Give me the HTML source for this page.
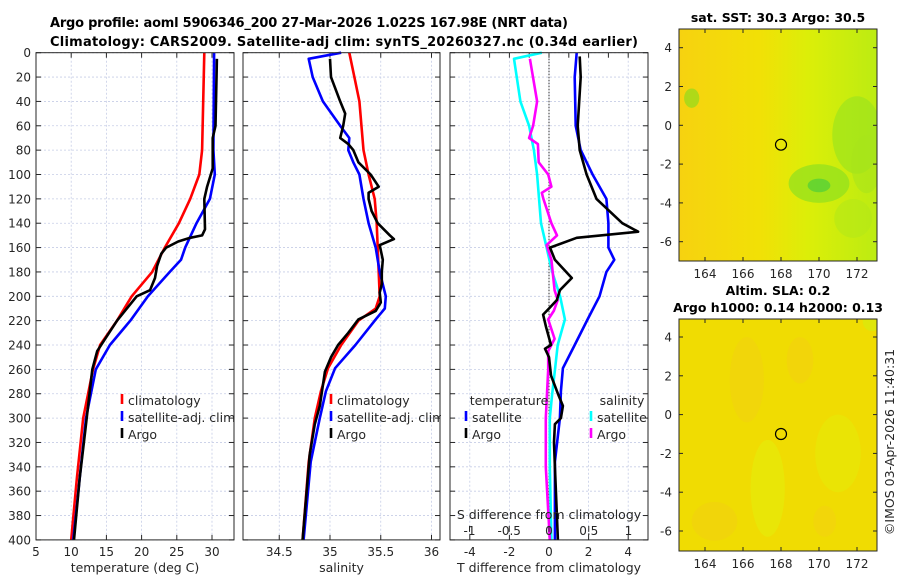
<!DOCTYPE html>
<html><head><meta charset="utf-8"><style>
body{margin:0;background:#fff;width:900px;height:580px;overflow:hidden}
svg text{font-family:"DejaVu Sans","Liberation Sans",sans-serif;fill:#262626}
</style></head><body>
<svg id="chart" width="900" height="580" xmlns="http://www.w3.org/2000/svg">
<text x="50" y="27" font-size="13" font-weight="bold" textLength="518" style="fill:#000">Argo profile: aoml 5906346_200 27-Mar-2026 1.022S 167.98E (NRT data)</text>
<text x="50" y="46" font-size="13" font-weight="bold" textLength="588" style="fill:#000">Climatology: CARS2009. Satellite-adj clim: synTS_20260327.nc (0.34d earlier)</text>
<g id="g"></g>
</svg>
<script>
// ---- data (depth in m) ----
const clim_T_depth=[0,80,100,120,140,160,180,200,220,240,260,300,350,400];
const clim_T=[28.9,28.6,28.2,26.9,25.3,23.3,21.5,18.6,16.5,14.1,13.1,11.7,10.8,10.0];
const sat_T_depth=[0,80,100,120,140,160,170,180,200,220,240,260,300,350,400];
const sat_T=[30.3,30.2,30.4,29.7,27.8,26.2,25.6,24.0,20.9,18.4,15.5,13.5,12.1,11.2,10.3];
const argo_T_depth=[5,60,70,95,110,120,145,150,152,155,160,165,175,185,195,200,220,245,260,310,350,400];
const argo_T=[30.7,30.5,30.1,30.1,29.3,28.9,29.0,28.6,26.9,25.2,23.5,22.8,22.2,21.9,21.2,19.3,16.5,13.7,13.0,12.0,11.2,10.4];

const clim_S_depth=[0,20,40,80,100,120,140,180,200,210,220,240,259,278,300,336,400];
const clim_S=[35.19,35.24,35.29,35.33,35.38,35.44,35.46,35.48,35.49,35.45,35.28,35.11,34.98,34.91,34.85,34.79,34.73];
const sat_S_depth=[0,5,20,40,60,70,80,90,100,120,140,160,180,200,210,219,240,259,278,300,336,400];
const sat_S=[35.11,34.79,34.83,34.93,35.10,35.19,35.18,35.23,35.29,35.33,35.38,35.45,35.49,35.55,35.54,35.45,35.25,35.05,34.96,34.90,34.81,34.74];
const argo_S_depth=[5,20,40,50,60,70,75,80,90,100,110,115,120,130,140,150,153,158,170,180,190,197,205,212,219,230,240,250,262,290,305,330,400];
const argo_S=[35.0,35.01,35.10,35.15,35.13,35.10,35.18,35.23,35.28,35.40,35.48,35.38,35.38,35.41,35.47,35.59,35.63,35.49,35.52,35.51,35.51,35.49,35.50,35.45,35.28,35.18,35.08,35.01,34.95,34.90,34.85,34.80,34.73];

const dT_sat_depth=[0,20,60,80,100,120,140,160,170,180,200,219,240,259,278,300,336,400];
const dT_sat=[1.4,1.3,1.35,1.6,2.2,2.9,3.0,3.0,3.3,2.9,2.55,1.95,1.3,0.7,0.6,0.55,0.3,0.3];
const dT_argo_depth=[3,20,60,80,100,120,140,147,152,160,170,185,195,203,210,215,225,240,243,250,265,280,290,300,305,320,340,400];
const dT_argo=[1.55,1.6,1.45,1.55,1.9,2.4,3.7,4.5,1.4,0.05,0.3,1.15,0.55,0.4,0.0,-0.3,-0.15,0.1,-0.2,0.0,0.1,0.45,0.7,0.6,0.3,0.25,0.3,0.45];
const dS_sat_depth=[0,5,40,60,80,100,140,160,180,200,219,240,260,280,300,340,400];
const dS_sat=[-0.09,-0.44,-0.36,-0.25,-0.19,-0.15,-0.10,-0.03,0.04,0.14,0.20,0.11,0.075,0.04,0.01,0.01,0.03];
const dS_argo_depth=[5,40,60,70,75,90,100,110,115,120,140,150,158,170,195,203,212,219,235,245,260,300,340,400];
const dS_argo=[-0.24,-0.15,-0.20,-0.25,-0.14,-0.13,-0.01,0.03,-0.09,-0.07,0.03,0.10,-0.03,0.03,0.07,0.11,0.06,-0.01,0.07,-0.01,-0.01,-0.04,-0.04,0.01];

const depthTicks=[0,20,40,60,80,100,120,140,160,180,200,220,240,260,280,300,320,340,360,380,400];
const tTicks=[5,10,15,20,25,30];
const sTicks=[34.5,35,35.5,36];
const dTTicks=[-4,-2,0,2,4];
const dSTicks=[-1,-0.5,0,0.5,1];
const dSTickLabels=["-1","-0.5","0","0.5","1"];
const lonTicks=[164,166,168,170,172];
const latTicks=[4,2,0,-2,-4,-6];

const NS="http://www.w3.org/2000/svg";
const G=document.getElementById('g');
function el(tag,attrs,parent){const e=document.createElementNS(NS,tag);for(const k in attrs)e.setAttribute(k,attrs[k]);(parent||G).appendChild(e);return e;}
function txt(x,y,s,size,anchor,parent){const t=el('text',{x:x,y:y,'font-size':size||12,'text-anchor':anchor||'middle'},parent);t.textContent=s;return t;}

const Y0=52.7,YS=1.218;
const yD=d=>Y0+d*YS;
const xT=t=>36+(t-5)*7.04;
const xS=s=>330+(s-35)*101.5;
const xdT=v=>549+v*19.8;
const xdS=v=>549+v*79.5;

function panel(name,x0,x1,xticks,xf,xlab,xlabStr){
  const g=el('g',{});
  
  
  depthTicks.forEach(d=>{const y=yD(d);
    const l=el('line',{x1:x0,x2:x1,y1:y,y2:y,stroke:'#c6cde6','stroke-width':0.8,'stroke-dasharray':'2,2'},g);
    
    el('line',{x1:x0,x2:x0+5,y1:y,y2:y,stroke:'#262626'},g);el('line',{x1:x1-5,x2:x1,y1:y,y2:y,stroke:'#262626'},g);});
  xticks.forEach((v,i)=>{const x=xf(v);
    const l=el('line',{x1:x,x2:x,y1:Y0,y2:yD(400),stroke:'#c6cde6','stroke-width':0.8,'stroke-dasharray':'2,2'},g);
    
    el('line',{x1:x,x2:x,y1:yD(400)-5,y2:yD(400),stroke:'#262626'},g);el('line',{x1:x,x2:x,y1:Y0,y2:Y0+5,stroke:'#262626'},g);
    const t=txt(x,556,xlab?xlab[i]:String(v),12,'middle',g);});
  const t=txt((x0+x1)/2,572,xlabStr,12.5,'middle',g);
  return g;
}
function frame(g,x0,x1){const r=el('rect',{x:x0,y:Y0,width:x1-x0,height:yD(400)-Y0,fill:'none',stroke:'#262626','stroke-width':1},g);}
function line(g,depths,vals,xf,color,name){
  const pts=depths.map((d,i)=>xf(vals[i]).toFixed(1)+','+yD(d).toFixed(1)).join(' ');
  const p=el('polyline',{points:pts,fill:'none',stroke:color,'stroke-width':2.6,'stroke-linejoin':'round'},g);
  
}
function legendItem(g,x,y,color,label,name){
  const gi=el('g',{},g);
  el('line',{x1:x,x2:x,y1:y-11,y2:y-1,stroke:color,'stroke-width':2.6},gi);
  txt(x+6,y,label,12.5,'start',gi);
}

// Panel 1
const p1=panel('temperature-panel',36,234,tTicks,xT,null,'temperature (deg C)');
depthTicks.forEach(d=>{const t=txt(31,yD(d)+4.5,String(d),12,'end',p1);});
line(p1,clim_T_depth,clim_T,xT,'#ff0000','climatology-temperature-line');
line(p1,sat_T_depth,sat_T,xT,'#0000ff','satellite-temperature-line');
line(p1,argo_T_depth,argo_T,xT,'#000000','argo-temperature-line');
legendItem(p1,122,405,'#ff0000','climatology','legend-climatology');
legendItem(p1,122,422,'#0000ff','satellite-adj. clim','legend-satellite');
legendItem(p1,122,439,'#000000','Argo','legend-argo');
frame(p1,36,234);

// Panel 2
const p2=panel('salinity-panel',243,440,sTicks,xS,null,'salinity');
line(p2,clim_S_depth,clim_S,xS,'#ff0000','climatology-salinity-line');
line(p2,sat_S_depth,sat_S,xS,'#0000ff','satellite-salinity-line');
line(p2,argo_S_depth,argo_S,xS,'#000000','argo-salinity-line');
legendItem(p2,331,405,'#ff0000','climatology','legend-climatology');
legendItem(p2,331,422,'#0000ff','satellite-adj. clim','legend-satellite');
legendItem(p2,331,439,'#000000','Argo','legend-argo');
el('rect',{x:441,y:400,width:8,height:50,fill:'#fff'},p2);
frame(p2,243,440);

// Panel 3
const p3=panel('difference-panel',450,648,dTTicks,xdT,null,'T difference from climatology');
[-3,-1,1,3].forEach(v=>{el('line',{x1:xdT(v),x2:xdT(v),y1:Y0,y2:Y0+5,stroke:'#262626'},p3);});
const z=el('line',{x1:549,x2:549,y1:Y0,y2:yD(400),stroke:'#555','stroke-width':1.2,'stroke-dasharray':'1.5,1.5'},p3);

line(p3,dS_sat_depth,dS_sat,xdS,'#00ffff','satellite-salinity-diff-line');
line(p3,dS_argo_depth,dS_argo,xdS,'#ff00ff','argo-salinity-diff-line');
line(p3,dT_sat_depth,dT_sat,xdT,'#0000ff','satellite-temperature-diff-line');
line(p3,dT_argo_depth,dT_argo,xdT,'#000000','argo-temperature-diff-line');
let tl=txt(509,405,'temperature',12.5,'middle',p3);
let sl=txt(622,405,'salinity',12.5,'middle',p3);
legendItem(p3,466,422,'#0000ff','satellite','legend-temperature-satellite');
legendItem(p3,466,439,'#000000','Argo','legend-temperature-argo');
legendItem(p3,591,422,'#00ffff','satellite','legend-salinity-satellite');
legendItem(p3,591,439,'#ff00ff','Argo','legend-salinity-argo');
let sa=txt(549,519,'S difference from climatology',12.5,'middle',p3);
dSTicks.forEach((v,i)=>{const t=txt(xdS(v),535,dSTickLabels[i],12,'middle',p3);
  el('line',{x1:xdS(v),x2:xdS(v),y1:yD(400)-14,y2:yD(400)-8,stroke:'#262626'},p3);});
frame(p3,450,648);

// Maps
const MX0=679,MX1=877;
const xLon=l=>705+(l-164)*19;
function map(name,y0,y1,yLat4,kind,title1,title2){
  const g=el('g',{});
  const yLat=la=>yLat4+(4-la)*19.4;
  const defs=el('defs',{},g);
  const cp=el('clipPath',{id:'clip-'+kind},defs);
  el('rect',{x:MX0,y:y0,width:MX1-MX0,height:y1-y0},cp);
  const inner=el('g',{'clip-path':'url(#clip-'+kind+')'},g);
  if(kind==='sst'){
    const lg=el('linearGradient',{id:'sstg',x1:0,x2:1,y1:0,y2:0},defs);
    el('stop',{offset:'0','stop-color':'#f6d210'},lg);el('stop',{offset:'0.4','stop-color':'#f2e006'},lg);
    el('stop',{offset:'0.65','stop-color':'#dcee08'},lg);el('stop',{offset:'1','stop-color':'#bcec12'},lg);
    el('rect',{x:MX0,y:y0,width:MX1-MX0,height:y1-y0,fill:'url(#sstg)'},inner);
    const blobs=[[172,-0.5,1.3,2.0,'#9ee41c',0.7],[170,-3,1.6,1.0,'#8ee020',0.7],[170,-3.1,0.6,0.35,'#40cc40',0.6],[171.8,-4.8,1,1,'#b4e818',0.6],[163.3,1.4,0.4,0.5,'#80dc20',0.6],[172.5,-2,0.8,1.5,'#a8e41a',0.6]];
    blobs.forEach(b=>{el('ellipse',{cx:xLon(b[0]),cy:yLat(b[1]),rx:b[2]*19,ry:b[3]*19.4,fill:b[4],opacity:b[5]},inner);});
  } else {
    el('rect',{x:MX0,y:y0,width:MX1-MX0,height:y1-y0,fill:'#f0dc02'},inner);
    const blobs=[[167.3,-3.8,0.9,2.5,'#e4ec0c'],[171,-2,1.2,2,'#e6ea08'],[164.5,-5.5,1.2,1,'#f2d010'],[166.2,1.8,0.9,2.2,'#f2d210'],[169,2.8,0.7,1.2,'#f4d010'],[172.8,4.8,0.5,0.5,'#d4ec10'],[170.3,-5.5,0.6,0.8,'#f4d210']];
    blobs.forEach(b=>{el('ellipse',{cx:xLon(b[0]),cy:yLat(b[1]),rx:b[2]*19,ry:b[3]*19.4,fill:b[4],opacity:0.6},inner);});
  }
  const c=el('circle',{cx:xLon(168),cy:yLat(-1),r:5.5,fill:'none',stroke:'#000','stroke-width':1.2},g);
  
  el('rect',{x:MX0,y:y0,width:MX1-MX0,height:y1-y0,fill:'none',stroke:'#262626','stroke-width':1},g);
  lonTicks.forEach(l=>{const x=xLon(l);el('line',{x1:x,x2:x,y1:y1-4,y2:y1,stroke:'#262626'},g);el('line',{x1:x,x2:x,y1:y0,y2:y0+4,stroke:'#262626'},g);
    const t=txt(x,y1+17,String(l),12,'middle',g);});
  latTicks.forEach(la=>{const y=yLat(la);el('line',{x1:MX0,x2:MX0+4,y1:y,y2:y,stroke:'#262626'},g);el('line',{x1:MX1-4,x2:MX1,y1:y,y2:y,stroke:'#262626'},g);
    const t=txt(MX0-7,y+4.5,String(la),12,'end',g);});
  let t1=txt(778,y0-(title2?24:7),title1,12.5,'middle',g);t1.setAttribute('font-weight','bold');t1.setAttribute('style','fill:#000');
  
  if(title2){let t2=txt(778,y0-7,title2,12.5,'middle',g);t2.setAttribute('font-weight','bold');t2.setAttribute('style','fill:#000');
    }
}
map('sst-map',29,261,47.7,'sst','sat. SST: 30.3 Argo: 30.5',null);
map('sla-map',319,551,337,'sla','Altim. SLA: 0.2','Argo h1000: 0.14 h2000: 0.13');
const cr=txt(0,0,'©IMOS 03-Apr-2026 11:40:31',12.5,'middle');
cr.setAttribute('transform','translate(894,442) rotate(-90)');


</script>
</body></html>
